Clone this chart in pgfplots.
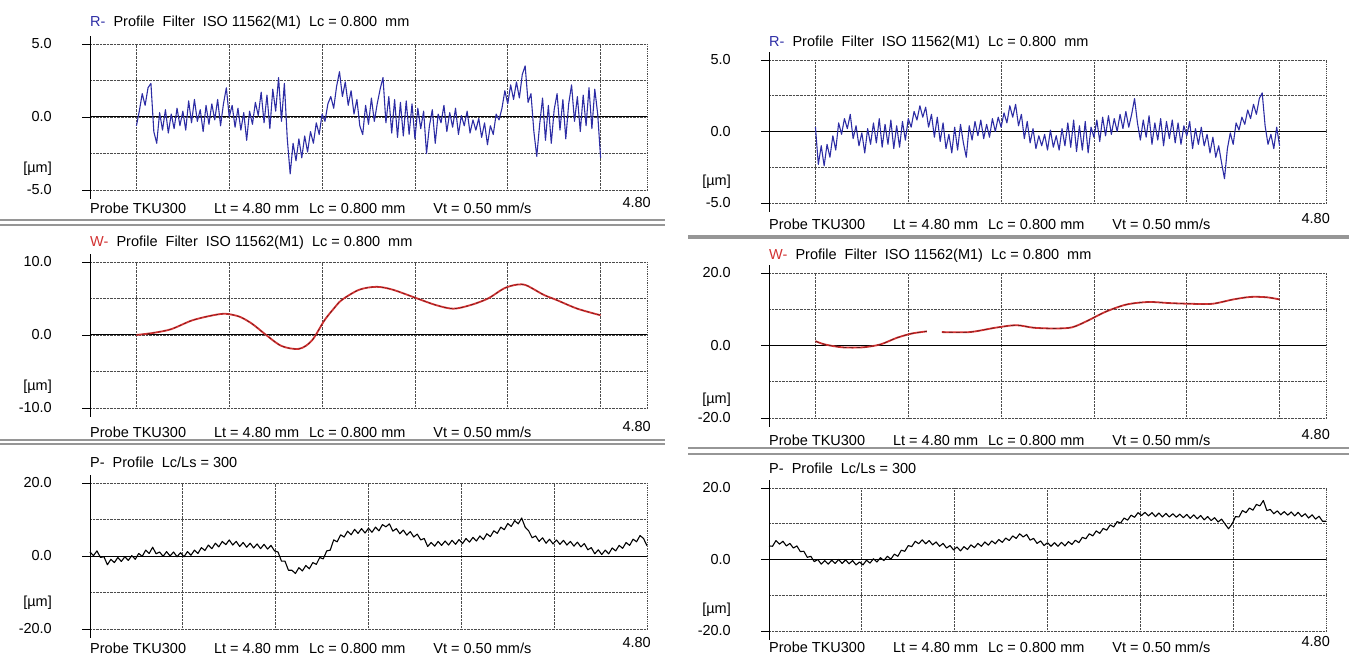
\documentclass[border=0pt]{standalone}
\usepackage{fontspec}
\setmainfont{Liberation Sans}
\usepackage{pgfplots}
\usepackage{pgfplotstable}
\pgfplotsset{compat=1.18}
\definecolor{rblue}{RGB}{45,45,165}
\definecolor{wred}{RGB}{210,50,50}
\definecolor{sepg}{RGB}{150,150,150}
\newcommand\tf{\fontsize{14.5bp}{17bp}\selectfont}
\pgfplotsset{
  prof/.style={
    scale only axis, width=557bp, xmin=0, xmax=4.8,
    axis line style={draw=none},
    ytick pos=left, xtick pos=bottom,
    tick align=outside, major tick length=8bp, minor tick length=0pt,
    xticklabels={}, yticklabels={},
    x tick style={draw=none},
    y tick style={black, line width=0.9pt},
    xmajorgrids, ymajorgrids, yminorgrids,
    major grid style={black!70, densely dotted, line width=0.8pt},
    minor grid style={black!70, densely dotted, line width=0.8pt},
    clip=false,
  },
  rw/.style={xtick={0.4,1.2,2.0,2.8,3.6,4.4}},
  pp/.style={xtick={0.8,1.6,2.4,3.2,4.0}},
}
\newcommand\frameit{%
  \draw[black, line width=1pt] (axis cs:0,0) -- (axis cs:4.8,0);
  \draw[black, line width=1pt] ([yshift=-9bp]rel axis cs:0,0) -- ([yshift=8bp]rel axis cs:0,1);
  \draw[black!70, densely dotted, line width=0.8pt] (rel axis cs:1,0) -- (rel axis cs:1,1);
}
% #1 xleft #2 ybot #3 ytop #4 toplab #5 botlab #6 titley #7 footy #8 umy #9 title
\newcommand\ptext[9]{%
  \node[anchor=east,inner sep=0] at (#1-38,#3) {\tf #4};
  \node[anchor=east,inner sep=0] at (#1-38,{(#2+#3)/2}) {\tf 0.0};
  \node[anchor=east,inner sep=0] at (#1-38,#2) {\tf #5};
  \node[anchor=east,inner sep=0] at (#1-38,#8) {\tf [µm]};
  \node[anchor=west,inner sep=0] at (#1,#6) {\tf #9};
  \node[anchor=west,inner sep=0] at (#1,#7) {\tf Probe TKU300\hspace{28bp}Lt = 4.80 mm\hspace{10bp}Lc = 0.800 mm\hspace{28bp}Vt = 0.50 mm/s};
  \node[anchor=east,inner sep=0] at (#1+561,#7+5) {\tf 4.80};
}
\pgfplotstableread[row sep=\\]{x y\\
0.40 0.0\\ 0.55 0.3\\ 0.70 0.8\\ 0.88 2.0\\ 1.06 2.7\\ 1.17 2.9\\ 1.29 2.5\\ 1.40 1.5\\ 1.51 0.1\\ 1.65 -1.5\\
1.80 -1.9\\ 1.91 -0.8\\ 2.02 2.0\\ 2.10 3.6\\ 2.17 4.8\\ 2.32 6.2\\ 2.47 6.6\\ 2.61 6.2\\ 2.82 5.0\\ 2.98 4.1\\
3.13 3.6\\ 3.28 4.1\\ 3.43 5.0\\ 3.57 6.4\\ 3.68 6.9\\ 3.76 6.8\\ 3.91 5.5\\ 4.02 4.8\\ 4.20 3.6\\ 4.40 2.7\\
}\leftW
\pgfplotstableread[row sep=\\]{x y\\
0.40 1.2\\ 0.48 0.3\\ 0.63 -0.5\\ 0.81 -0.5\\ 0.96 0.3\\ 1.10 2.1\\ 1.23 3.3\\ 1.36 3.9\\ 1.42 nan\\ 1.49 3.7\\
1.73 3.7\\ 1.95 4.9\\ 2.13 5.6\\ 2.28 4.9\\ 2.46 4.7\\ 2.61 5.0\\ 2.75 6.9\\ 2.90 9.3\\ 3.08 11.3\\ 3.27 12.0\\
3.45 11.7\\ 3.64 11.5\\ 3.82 11.5\\ 4.00 12.7\\ 4.15 13.4\\ 4.29 13.3\\ 4.40 12.7\\
}\rightW
\begin{document}
\begin{tikzpicture}[x=1bp,y=1bp]
\useasboundingbox (0,0) rectangle (1349,659);
% separators
\draw[sepg, line width=2bp] (0,439) -- (665,439);
\draw[sepg, line width=1.5bp] (0,434) -- (665,434);
\draw[sepg, line width=2bp] (0,219) -- (665,219);
\draw[sepg, line width=1.5bp] (0,215) -- (665,215);
\draw[sepg, line width=4bp] (688,421.5) -- (1349,421.5);
\draw[sepg, line width=2bp] (688,211) -- (1349,211);
\draw[sepg, line width=1.5bp] (688,205) -- (1349,205);

% ---------- Left R ----------
\begin{axis}[prof, rw, at={(90bp,469bp)}, anchor=south west, height=146bp,
  ymin=-5, ymax=5, ytick={-5,0,5}, minor ytick={-2.5,2.5}]
\frameit
\addplot[rblue, line width=1.1pt, line join=round] coordinates {
(0.400,-0.6)(0.425,0.4)(0.450,1.6)(0.475,0.8)(0.500,2.0)(0.525,2.3)(0.550,-1.0)(0.575,-1.8)(0.600,0.3)(0.625,-0.9)
(0.650,0.5)(0.675,-1.1)(0.700,0.2)(0.725,-0.8)(0.750,0.6)(0.775,-0.6)(0.800,0.4)(0.825,-0.9)(0.850,1.1)(0.875,-0.4)
(0.900,1.2)(0.925,-0.3)(0.950,0.5)(0.975,-1.0)(1.000,0.8)(1.025,-0.5)(1.050,0.9)(1.075,-0.2)(1.100,1.2)(1.125,-0.6)
(1.150,0.9)(1.175,2.0)(1.200,0.0)(1.225,0.8)(1.250,-0.7)(1.275,0.6)(1.300,-0.9)(1.325,0.3)(1.350,-1.6)(1.375,0.4)
(1.400,-0.5)(1.425,1.0)(1.450,0.1)(1.475,1.7)(1.500,-0.4)(1.525,1.5)(1.550,-0.8)(1.575,1.9)(1.600,0.4)(1.625,2.7)
(1.650,-0.3)(1.675,2.3)(1.700,-1.5)(1.725,-3.9)(1.750,-1.8)(1.775,-3.0)(1.800,-1.5)(1.825,-2.8)(1.850,-1.3)(1.875,-2.4)
(1.900,-1.0)(1.925,-1.8)(1.950,-0.4)(1.975,-1.2)(2.000,0.2)(2.025,-0.3)(2.050,0.9)(2.075,1.4)(2.100,0.6)(2.125,2.1)
(2.150,3.1)(2.175,1.4)(2.200,2.4)(2.225,0.8)(2.250,1.8)(2.275,0.2)(2.300,1.2)(2.325,-0.6)(2.350,-1.2)(2.375,0.8)
(2.400,-0.5)(2.425,1.3)(2.450,-0.3)(2.475,0.9)(2.500,1.9)(2.525,2.7)(2.550,-0.4)(2.575,1.4)(2.600,-1.1)(2.625,1.2)
(2.650,-1.4)(2.675,1.0)(2.700,-1.3)(2.725,1.1)(2.750,-1.2)(2.775,0.9)(2.800,-1.5)(2.825,0.6)(2.850,-0.8)(2.875,0.4)
(2.900,-2.5)(2.925,-0.6)(2.950,0.5)(2.975,-1.8)(3.000,0.2)(3.025,-0.4)(3.050,0.8)(3.075,-1.0)(3.100,0.3)(3.125,-0.7)
(3.150,0.6)(3.175,-1.2)(3.200,0.1)(3.225,-0.6)(3.250,0.4)(3.275,-1.1)(3.300,-0.2)(3.325,-0.9)(3.350,-0.1)(3.375,-1.4)
(3.400,-0.4)(3.425,-1.9)(3.450,-0.6)(3.475,-1.2)(3.500,0.2)(3.525,-0.2)(3.550,0.6)(3.575,1.8)(3.600,0.9)(3.625,2.2)
(3.650,1.2)(3.675,2.4)(3.700,1.3)(3.725,2.9)(3.750,3.5)(3.775,1.0)(3.800,1.6)(3.825,-1.0)(3.850,-2.7)(3.875,-0.5)
(3.900,1.3)(3.925,-1.6)(3.950,0.8)(3.975,-1.8)(4.000,0.5)(4.025,1.6)(4.050,-0.9)(4.075,1.2)(4.100,-1.5)(4.125,0.9)
(4.150,2.2)(4.175,-0.3)(4.200,1.4)(4.225,-1.0)(4.250,1.5)(4.275,-0.6)(4.300,2.0)(4.325,-0.8)(4.350,1.9)(4.375,0.2)
(4.400,-2.8)};
\end{axis}
\ptext{90}{469}{615}{5.0}{-5.0}{636}{451}{490}{{\color{rblue}R-}\ \ Profile\ \ Filter\ \ ISO 11562(M1)\ \ Lc = 0.800\ \ mm}

% ---------- Left W ----------
\begin{axis}[prof, rw, at={(90bp,251bp)}, anchor=south west, height=146bp,
  ymin=-10, ymax=10, ytick={-10,0,10}, minor ytick={-5,5}]
\frameit
\addplot[wred, line width=1.8pt, smooth] table {\leftW};
\addplot[black!55!wred, line width=0.6pt, smooth, dash pattern=on 2.5pt off 3pt] table {\leftW};
\end{axis}
\ptext{90}{251}{397}{10.0}{-10.0}{416}{227}{272}{{\color{wred}W-}\ \ Profile\ \ Filter\ \ ISO 11562(M1)\ \ Lc = 0.800\ \ mm}

% ---------- Left P ----------
\begin{axis}[prof, pp, at={(90bp,30bp)}, anchor=south west, height=146bp,
  ymin=-20, ymax=20, ytick={-20,0,20}, minor ytick={-10,10}]
\frameit
\addplot[black, line width=1.1pt, line join=round] coordinates {
(0.00,1.1)(0.03,0.1)(0.06,1.4)(0.09,-0.4)(0.12,-0.2)(0.15,-2.4)(0.18,-0.9)(0.21,-1.8)(0.24,-0.4)(0.27,-1.5)
(0.30,-0.2)(0.33,-1.2)(0.36,0.1)(0.39,-0.9)(0.42,0.7)(0.45,-0.1)(0.48,1.6)(0.51,0.7)(0.54,2.4)(0.57,0.6)
(0.60,1.1)(0.63,-0.1)(0.66,1.2)(0.69,0.0)(0.72,1.1)(0.75,-0.2)(0.78,0.9)(0.81,-0.2)(0.84,1.2)(0.87,0.2)
(0.90,1.6)(0.93,0.7)(0.96,2.3)(0.99,1.5)(1.02,3.0)(1.05,2.0)(1.08,3.5)(1.11,2.5)(1.14,4.0)(1.17,3.1)
(1.20,4.4)(1.23,3.0)(1.26,4.0)(1.29,2.6)(1.32,3.7)(1.35,2.4)(1.38,3.5)(1.41,2.2)(1.44,3.3)(1.47,2.0)
(1.50,3.2)(1.53,1.9)(1.56,2.9)(1.59,1.4)(1.62,1.1)(1.65,-1.4)(1.68,-1.4)(1.71,-3.9)(1.74,-3.9)(1.77,-4.8)
(1.80,-3.2)(1.83,-4.1)(1.86,-2.6)(1.89,-3.5)(1.92,-1.8)(1.95,-2.3)(1.98,-0.4)(2.01,-0.8)(2.04,1.4)(2.07,1.6)
(2.10,4.4)(2.13,3.9)(2.16,5.8)(2.19,5.2)(2.22,6.8)(2.25,5.8)(2.28,7.3)(2.31,6.2)(2.34,7.5)(2.37,6.3)
(2.40,7.6)(2.43,6.5)(2.46,7.9)(2.49,6.9)(2.52,8.6)(2.55,8.0)(2.58,8.8)(2.61,6.8)(2.64,7.5)(2.67,6.1)
(2.70,7.1)(2.73,5.7)(2.76,6.7)(2.79,5.2)(2.82,6.0)(2.85,4.4)(2.88,4.8)(2.91,2.6)(2.94,3.7)(2.97,2.7)
(3.00,4.0)(3.03,2.9)(3.06,4.1)(3.09,3.0)(3.12,4.3)(3.15,3.2)(3.18,4.5)(3.21,3.4)(3.24,4.8)(3.27,3.8)
(3.30,5.1)(3.33,4.1)(3.36,5.5)(3.39,4.5)(3.42,6.1)(3.45,5.3)(3.48,6.9)(3.51,6.2)(3.54,7.9)(3.57,7.2)
(3.60,8.9)(3.63,8.1)(3.66,9.7)(3.69,8.8)(3.72,10.4)(3.75,7.9)(3.78,6.9)(3.81,5.0)(3.84,5.5)(3.87,4.0)
(3.90,5.0)(3.93,3.5)(3.96,4.6)(3.99,3.3)(4.02,4.4)(4.05,3.2)(4.08,4.3)(4.11,3.0)(4.14,4.0)(4.17,2.7)
(4.20,3.8)(4.23,2.5)(4.26,3.4)(4.29,1.7)(4.32,2.3)(4.35,0.6)(4.38,1.7)(4.41,0.4)(4.44,1.6)(4.47,0.6)
(4.50,2.2)(4.53,1.4)(4.56,2.9)(4.59,2.1)(4.62,3.7)(4.65,2.9)(4.68,4.6)(4.71,3.9)(4.74,5.6)(4.77,4.8)
(4.80,2.8)};
\end{axis}
\ptext{90}{30}{176}{20.0}{-20.0}{197}{11}{56}{P-\ \ Profile\ \ Lc/Ls = 300}

% ---------- Right R ----------
\begin{axis}[prof, rw, at={(769bp,456bp)}, anchor=south west, height=143bp,
  ymin=-5, ymax=5, ytick={-5,0,5}, minor ytick={-2.5,2.5}]
\frameit
\addplot[rblue, line width=1.1pt, line join=round] coordinates {
(0.400,0.3)(0.425,-2.3)(0.450,-1.0)(0.475,-2.4)(0.500,-0.9)(0.525,-1.8)(0.550,-0.3)(0.575,-1.3)(0.600,0.6)(0.625,-0.2)
(0.650,0.9)(0.675,0.2)(0.700,1.2)(0.725,-0.5)(0.750,0.4)(0.775,-1.0)(0.800,-0.1)(0.825,-1.5)(0.850,0.2)(0.875,-0.9)
(0.900,0.6)(0.925,-0.8)(0.950,0.9)(0.975,-1.1)(1.000,0.5)(1.025,-0.9)(1.050,0.8)(1.075,-1.2)(1.100,0.4)(1.125,-1.1)
(1.150,0.7)(1.175,-0.6)(1.200,0.9)(1.225,0.3)(1.250,1.4)(1.275,0.8)(1.300,1.8)(1.325,1.0)(1.350,1.7)(1.375,0.3)
(1.400,1.2)(1.425,-0.4)(1.450,1.0)(1.475,-0.7)(1.500,0.6)(1.525,-1.2)(1.550,-0.2)(1.575,-1.5)(1.600,0.3)(1.625,-1.3)
(1.650,0.5)(1.675,-0.8)(1.700,-1.8)(1.725,0.4)(1.750,-0.6)(1.775,0.7)(1.800,-0.3)(1.825,0.8)(1.850,-0.5)(1.875,0.5)
(1.900,-0.4)(1.925,0.9)(1.950,0.0)(1.975,1.0)(2.000,0.3)(2.025,1.3)(2.050,0.6)(2.075,1.8)(2.100,1.0)(2.125,1.9)
(2.150,0.4)(2.175,1.2)(2.200,-0.5)(2.225,0.7)(2.250,-0.8)(2.275,0.2)(2.300,-1.2)(2.325,-0.3)(2.350,-1.0)(2.375,-0.2)
(2.400,-1.3)(2.425,0.1)(2.450,-1.1)(2.475,-0.3)(2.500,-1.3)(2.525,0.2)(2.550,-1.0)(2.575,0.6)(2.600,-1.1)(2.625,0.8)
(2.650,-1.4)(2.675,0.4)(2.700,-1.3)(2.725,0.7)(2.750,-1.5)(2.775,0.3)(2.800,-0.4)(2.825,0.8)(2.850,-0.7)(2.875,1.0)
(2.900,-0.3)(2.925,1.1)(2.950,-0.2)(2.975,0.9)(3.000,0.0)(3.025,1.2)(3.050,0.2)(3.075,1.4)(3.100,0.3)(3.125,1.2)
(3.150,2.3)(3.175,0.6)(3.200,-0.6)(3.225,0.8)(3.250,-0.4)(3.275,1.1)(3.300,-0.9)(3.325,0.6)(3.350,-0.6)(3.375,0.9)
(3.400,-1.0)(3.425,0.7)(3.450,-0.5)(3.475,0.8)(3.500,-0.8)(3.525,0.6)(3.550,-0.9)(3.575,0.4)(3.600,-0.3)(3.625,0.7)
(3.650,-1.2)(3.675,0.2)(3.700,-0.9)(3.725,0.3)(3.750,-1.0)(3.775,-0.2)(3.800,-1.5)(3.825,-0.4)(3.850,-1.8)(3.875,-1.0)
(3.900,-2.2)(3.925,-3.3)(3.950,-1.2)(3.975,-0.1)(4.000,-0.9)(4.025,0.6)(4.050,0.1)(4.075,1.0)(4.100,0.5)(4.125,1.5)
(4.150,0.9)(4.175,1.9)(4.200,1.2)(4.225,2.3)(4.250,2.7)(4.275,0.4)(4.300,-0.9)(4.325,-0.2)(4.350,-1.2)(4.375,0.3)
(4.400,-1.0)};
\end{axis}
\ptext{769}{456}{599}{5.0}{-5.0}{616}{435}{477}{{\color{rblue}R-}\ \ Profile\ \ Filter\ \ ISO 11562(M1)\ \ Lc = 0.800\ \ mm}

% ---------- Right W ----------
\begin{axis}[prof, rw, at={(769bp,241bp)}, anchor=south west, height=145bp,
  ymin=-20, ymax=20, ytick={-20,0,20}, minor ytick={-10,10}, unbounded coords=jump]
\frameit
\addplot[wred, line width=1.8pt, smooth] table {\rightW};
\addplot[black!55!wred, line width=0.6pt, smooth, dash pattern=on 4pt off 3pt] table {\rightW};
\end{axis}
\ptext{769}{241}{386}{20.0}{-20.0}{403}{219}{259}{{\color{wred}W-}\ \ Profile\ \ Filter\ \ ISO 11562(M1)\ \ Lc = 0.800\ \ mm}

% ---------- Right P ----------
\begin{axis}[prof, pp, at={(769bp,28bp)}, anchor=south west, height=143bp,
  ymin=-20, ymax=20, ytick={-20,0,20}, minor ytick={-10,10}]
\frameit
\addplot[black, line width=1.1pt, line join=round] coordinates {
(0.00,3.8)(0.03,3.7)(0.06,5.3)(0.09,4.3)(0.12,5.1)(0.15,3.8)(0.18,4.5)(0.21,3.2)(0.24,3.8)(0.27,2.2)
(0.30,2.3)(0.33,0.6)(0.36,0.9)(0.39,-0.6)(0.42,0.0)(0.45,-1.3)(0.48,-0.3)(0.51,-1.3)(0.54,-0.2)(0.57,-1.1)
(0.60,0.0)(0.63,-1.1)(0.66,-0.1)(0.69,-1.2)(0.72,-0.3)(0.75,-1.5)(0.78,-0.7)(0.81,-1.5)(0.84,-0.2)(0.87,-1.0)
(0.90,0.2)(0.93,-0.7)(0.96,0.5)(0.99,-0.3)(1.02,0.9)(1.05,0.1)(1.08,1.5)(1.11,0.9)(1.14,2.6)(1.17,2.3)
(1.20,3.9)(1.23,3.6)(1.26,5.1)(1.29,4.4)(1.32,5.5)(1.35,4.4)(1.38,5.3)(1.41,4.1)(1.44,4.9)(1.47,3.7)
(1.50,4.5)(1.53,3.2)(1.56,3.9)(1.59,2.7)(1.62,3.5)(1.65,2.4)(1.68,3.6)(1.71,2.8)(1.74,4.1)(1.77,3.3)
(1.80,4.5)(1.83,3.7)(1.86,4.9)(1.89,4.0)(1.92,5.2)(1.95,4.4)(1.98,5.6)(2.01,4.8)(2.04,6.0)(2.07,5.3)
(2.10,6.6)(2.13,5.9)(2.16,7.2)(2.19,6.3)(2.22,7.0)(2.25,5.4)(2.28,5.9)(2.31,4.5)(2.34,5.2)(2.37,3.9)
(2.40,4.7)(2.43,3.7)(2.46,4.7)(2.49,3.7)(2.52,4.8)(2.55,3.8)(2.58,5.0)(2.61,4.2)(2.64,5.4)(2.67,4.7)
(2.70,6.2)(2.73,5.8)(2.76,7.2)(2.79,6.6)(2.82,8.0)(2.85,7.3)(2.88,8.7)(2.91,8.2)(2.94,9.7)(2.97,9.1)
(3.00,10.6)(3.03,10.2)(3.06,11.6)(3.09,11.0)(3.12,12.4)(3.15,11.8)(3.18,13.1)(3.21,12.3)(3.24,13.2)(3.27,12.2)
(3.30,13.1)(3.33,12.0)(3.36,13.0)(3.39,11.9)(3.42,12.9)(3.45,11.9)(3.48,12.8)(3.51,11.8)(3.54,12.7)(3.57,11.7)
(3.60,12.6)(3.63,11.5)(3.66,12.5)(3.69,11.4)(3.72,12.3)(3.75,11.1)(3.78,12.0)(3.81,10.9)(3.84,11.7)(3.87,10.5)
(3.90,11.3)(3.93,9.9)(3.96,8.6)(3.99,9.9)(4.02,12.0)(4.05,11.9)(4.08,13.7)(4.11,13.1)(4.14,14.4)(4.17,13.8)
(4.20,15.4)(4.23,15.0)(4.26,16.5)(4.29,13.7)(4.32,14.0)(4.35,12.8)(4.38,13.6)(4.41,12.5)(4.44,13.4)(4.47,12.4)
(4.50,13.3)(4.53,12.2)(4.56,13.2)(4.59,12.0)(4.62,12.8)(4.65,11.6)(4.68,12.5)(4.71,11.3)(4.74,12.1)(4.77,10.7)
(4.80,10.7)};
\end{axis}
\ptext{769}{28}{171}{20.0}{-20.0}{191}{12}{49}{P-\ \ Profile\ \ Lc/Ls = 300}
\end{tikzpicture}
\end{document}
